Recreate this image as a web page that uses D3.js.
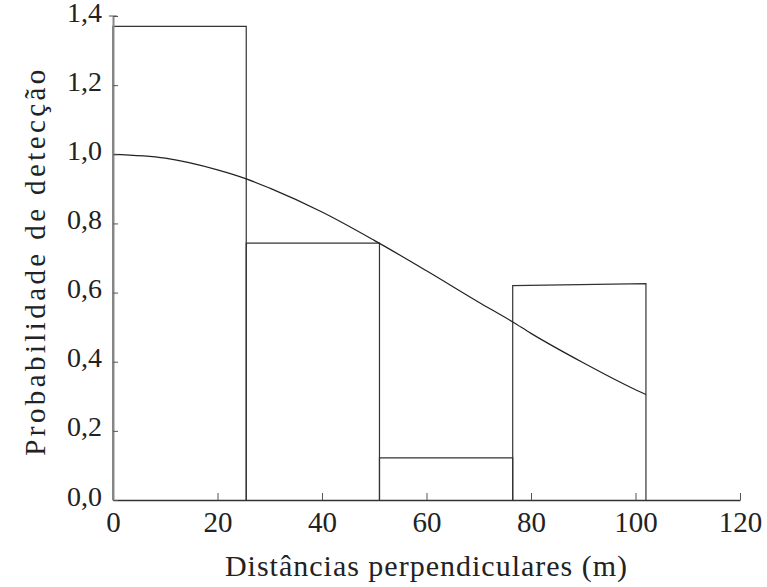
<!DOCTYPE html>
<html>
<head>
<meta charset="utf-8">
<script src="https://cdn.jsdelivr.net/npm/d3@7"></script>
<style>
body { margin: 0; background: #fff; }
text { font-family: "Liberation Serif", "Times New Roman", serif; fill: #222; }
</style>
</head>
<body>
<script>
// histogram bins (m) and heights
var binStart = [0, 25.5, 51, 76.5];
var binEnd = [25.5, 51, 76.5, 102];
var barTopLeft = [1.37, 0.743, 0.122, 0.62];
var barTopRight = [1.37, 0.743, 0.122, 0.626];

// fitted detection curve
var curveX = [0, 10, 20, 25.5, 30, 40, 50, 60, 70, 76.5, 80, 90, 100, 102];
var curveY = [1.0, 0.989, 0.955, 0.929, 0.902, 0.833, 0.751, 0.663, 0.572, 0.515, 0.482, 0.397, 0.319, 0.305];

var xTicks = [0, 20, 40, 60, 80, 100, 120];
var yTicks = [0, 0.2, 0.4, 0.6, 0.8, 1.0, 1.2, 1.4];

var margin = {top: 16, right: 27, bottom: 87, left: 113}, width = 767 - margin.left - margin.right, height = 587 - margin.top - margin.bottom;

var svg = d3.select("body")
    .append("svg")
    .attr("width", 767)
    .attr("height", 587)
    .append("g")
    .attr("transform", "translate(" + margin.left + "," + margin.top + ")");

var x = d3.scaleLinear().domain([0, 120]).range([0, width]);
var y = d3.scaleLinear().domain([0, 1.4]).range([height, 0]);

var fmt = function(d) { return d3.format(".1f")(d).replace(".", ","); };

// bars drawn as outlines (top of the last one is slightly tilted)
svg.selectAll("mybar")
    .data(binStart)
    .enter()
    .append("path")
    .attr("d", function(d, i) {
        return "M" + x(binStart[i]) + "," + y(0) +
            "L" + x(binStart[i]) + "," + y(barTopLeft[i]) +
            "L" + x(binEnd[i]) + "," + y(barTopRight[i]) +
            "L" + x(binEnd[i]) + "," + y(0);
    })
    .attr("fill", "none")
    .attr("stroke", "#333")
    .attr("stroke-width", 1.2);

svg.append("path")
    .datum(curveX)
    .attr("fill", "none")
    .attr("stroke", "#222")
    .attr("stroke-width", 1.2)
    .attr("d", d3.line()
        .curve(d3.curveMonotoneX)
        .x(function(d) { return x(d); })
        .y(function(d, i) { return y(curveY[i]); })
    );

// x axis, ticks inside
var gx = svg.append("g")
    .attr("transform", "translate(0," + height + ")")
    .call(d3.axisBottom(x).tickValues(xTicks).tickSizeInner(-7).tickSizeOuter(0).tickPadding(0).tickFormat(d3.format("d")));
gx.select(".domain").attr("stroke", "#333").attr("stroke-width", 1.5);
gx.selectAll(".tick line").attr("stroke", "#555");
gx.selectAll("text").style("font-size", "29px").attr("fill", "#222")
    .attr("y", 32).attr("dy", null);

// y axis, ticks inside
var gy = svg.append("g")
    .call(d3.axisLeft(y).tickValues(yTicks).tickSizeInner(-5).tickSizeOuter(0).tickPadding(0).tickFormat(fmt));
gy.select(".domain").attr("stroke", "#888").attr("stroke-width", 2);
gy.selectAll(".tick line").attr("stroke", "#555");
gy.selectAll("text").style("font-size", "28px").attr("fill", "#222")
    .attr("x", -11).attr("dy", null).attr("y", 5);
svg.append("line").attr("x1", -4).attr("x2", 4).attr("y1", y(1.4)).attr("y2", y(1.4)).attr("stroke", "#555");

svg.append("text")
    .attr("text-anchor", "middle")
    .attr("x", width / 2)
    .attr("y", 560)
    .style("font-size", "30px")
    .style("letter-spacing", "1px")
    .text("Distâncias perpendiculares (m)");

svg.append("text")
    .attr("text-anchor", "middle")
    .attr("transform", "translate(-68," + 245 + ")rotate(-90)")
    .style("font-size", "29px")
    .style("letter-spacing", "3.4px")
    .text("Probabilidade de detecção");
</script>
</body>
</html>
